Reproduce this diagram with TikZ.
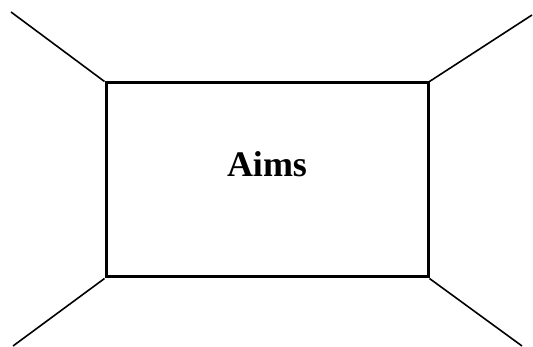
\documentclass[tikz,border=0pt]{standalone}
\usepackage{fontspec}
\setmainfont{Liberation Serif}
\begin{document}
\begin{tikzpicture}[x=1pt,y=-1pt,
  spoke/.style={line width=1.6pt},
  frame/.style={draw,line width=3pt,minimum width=322pt,minimum height=194pt,inner sep=0pt}]
\useasboundingbox (0,0) rectangle (533,347);
\node[frame] (box) at (267,180) {};
\node[font=\bfseries\fontsize{36}{40}\selectfont] (label) at (267,164) {Aims};
\coordinate (tl) at (11,12);
\coordinate (tr) at (532,15);
\coordinate (bl) at (13,346);
\coordinate (br) at (522,346);
\draw[spoke] (box.north west) -- (tl);
\draw[spoke] (box.north east) -- (tr);
\draw[spoke] (box.south west) -- (bl);
\draw[spoke] (box.south east) -- (br);
\end{tikzpicture}
\end{document}
